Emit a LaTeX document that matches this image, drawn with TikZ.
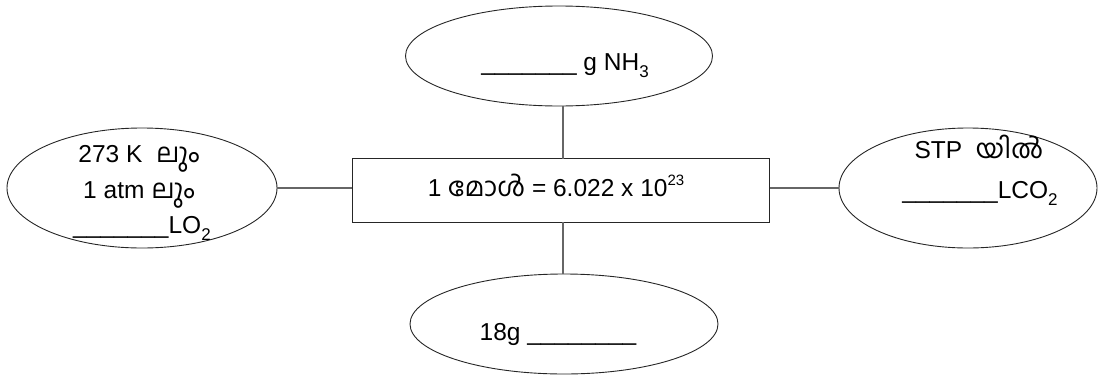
\documentclass[tikz,border=0pt]{standalone}
\usepackage{fontspec}
\setmainfont{Liberation Sans}
\newfontfamily\mlfont[Script=Malayalam,Scale=1.08]{Hind Kochi}
\usetikzlibrary{shapes.geometric}
\newcommand{\lowsub}[1]{\raisebox{-0.55ex}{\fontsize{17}{18}\selectfont #1}}
\newcommand{\highsup}[1]{\raisebox{0.8ex}{\fontsize{15}{16}\selectfont #1}}
\newcommand{\blank}[1]{\foreach \i in {1,...,#1}{\_}}
\tikzset{
  oval/.style={ellipse, draw=black!85, line width=0.9pt, inner sep=0pt},
  centerbox/.style={rectangle, draw=black!85, line width=1pt, inner sep=0pt,
    minimum width=417pt, minimum height=64pt},
  txt/.style={font=\fontsize{24.5}{36}\selectfont, align=center, inner sep=0pt},
  link/.style={draw=black!60, line width=1.2pt}
}
\begin{document}
\begin{tikzpicture}[x=1pt,y=-1pt]
\useasboundingbox (0,0) rectangle (1102,375);
% shapes
\node[oval, minimum width=307pt, minimum height=100pt] (T) at (559,56) {};
\node[oval, minimum width=270pt, minimum height=120pt] (L) at (142,188) {};
\node[oval, minimum width=258pt, minimum height=120pt] (R) at (968,188) {};
\node[oval, minimum width=308pt, minimum height=100pt] (B) at (564,324) {};
\node[centerbox] (C) at (560.5,190) {};
% connectors
\draw[link] (L.east) -- (C.west |- L.east);
\draw[link] (C.east |- R.west) -- (R.west);
\draw[link] (563,159) coordinate (ct) -- (ct |- T.south);
\draw[link] (563,222) coordinate (cb) -- (cb |- B.north);
% texts
\node[txt, anchor=base] (tT) at (565,70) {\blank{7} g NH\lowsub{3}};
\node[txt, anchor=base] (tL1) at (139,162) {273 K\ \ {\mlfont ലും}};
\node[txt, anchor=base] (tL2) at (139,198) {1 atm {\mlfont ലും}};
\node[txt, anchor=base] (tL3) at (142,233) {\blank{7}LO\lowsub{2}};
\node[txt, anchor=base] (tR1) at (979,158) {STP\ \ {\mlfont യിൽ}};
\node[txt, anchor=base] (tR2) at (980,198) {\blank{7}LCO\lowsub{2}};
\node[txt, anchor=base] (tC) at (556,196) {1 {\mlfont മോൾ} = 6.022 x 10\highsup{23}};
\node[txt, anchor=base] (tB) at (558,340) {18g \blank{8}};
\end{tikzpicture}
\end{document}
